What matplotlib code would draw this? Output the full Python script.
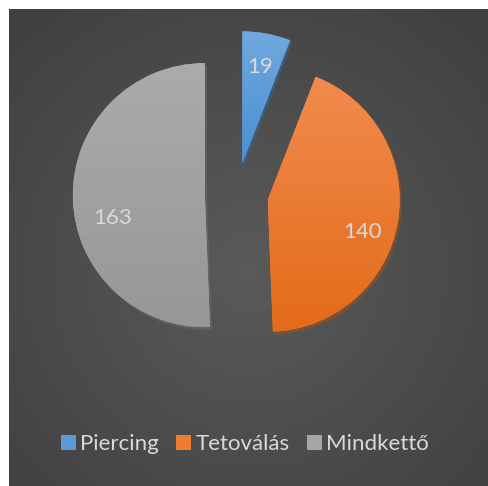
import numpy as np
import matplotlib.pyplot as plt
from matplotlib.colors import LinearSegmentedColormap

# 数据
categories = ['Piercing', 'Tetoválás', 'Mindkettő']
values = [19, 140, 163]

# 颜色 (底色, 渐变上/下)
base_colors = ['#5b9bd5', '#ed7d31', '#a5a5a5']
grad_top = ['#70a9de', '#f08b4e', '#ababab']
grad_bottom = ['#4a8ed3', '#e46b18', '#979797']
text_color = '#d9d9d9'

W, H = 489, 486
plt.rcParams['font.family'] = ['Lato', 'DejaVu Sans']

fig = plt.figure(figsize=(W / 100, H / 100), dpi=100)
fig.patch.set_facecolor('white')
ax = fig.add_axes([0, 0, 1, 1])

# 背景: 径向渐变
yy, xx = np.mgrid[0:1:200j, 0:1:200j]
dist = np.sqrt((xx - 0.5) ** 2 + (yy - 0.55) ** 2) / 0.72
bg_cmap = LinearSegmentedColormap.from_list('bg', ['#5a5a5a', '#404040'])
ax.imshow(dist, cmap=bg_cmap, vmin=0, vmax=1, extent=(9, W, 0, H - 10),
          origin='upper', zorder=0, aspect='auto', interpolation='bilinear')

# 饼图 (explode 为数据单位)
R = 132
center = (236.5, H - 194.5)
wedges, _ = ax.pie(values, radius=R, center=center, startangle=90,
                   counterclock=False, explode=[0.24 * R] * 3, colors=base_colors,
                   shadow={'ox': 1.5, 'oy': -2, 'shade': 0.35, 'alpha': 0.6},
                   wedgeprops={'linewidth': 0, 'zorder': 2})

# 每个扇区内的纵向渐变
grad = np.linspace(0, 1, 256).reshape(-1, 1)
for w, c0, c1 in zip(wedges, grad_top, grad_bottom):
    cmap = LinearSegmentedColormap.from_list('g', [c0, c1])
    x0, y0, x1, y1 = w.get_path().get_extents(w.get_patch_transform()).extents
    im = ax.imshow(grad, cmap=cmap, extent=(x0, x1, y0, y1), origin='upper',
                   zorder=3, aspect='auto', interpolation='bilinear')
    im.set_clip_path(w)

# 数据标签
label_shift = [0, -9.3, 12.6]
label_dist = [0.74, 0.76, 0.72]
for w, v, s, d in zip(wedges, values, label_shift, label_dist):
    ang = np.deg2rad((w.theta1 + w.theta2) / 2 + s)
    cx, cy = w.center
    ax.text(cx + d * w.r * np.cos(ang), cy + d * w.r * np.sin(ang), str(v),
            ha='center', va='center', fontsize=16, color=text_color, zorder=4)

ax.set_xlim(0, W)
ax.set_ylim(0, H)
ax.axis('off')

leg = ax.legend(wedges, categories, loc='center', bbox_to_anchor=(245 / W, 0.086),
                ncol=3, frameon=False, fontsize=16, handlelength=0.65,
                handleheight=0.65, handletextpad=0.2, columnspacing=0.8,
                labelcolor=text_color)

plt.savefig('out.png', dpi=100, facecolor=fig.get_facecolor())
